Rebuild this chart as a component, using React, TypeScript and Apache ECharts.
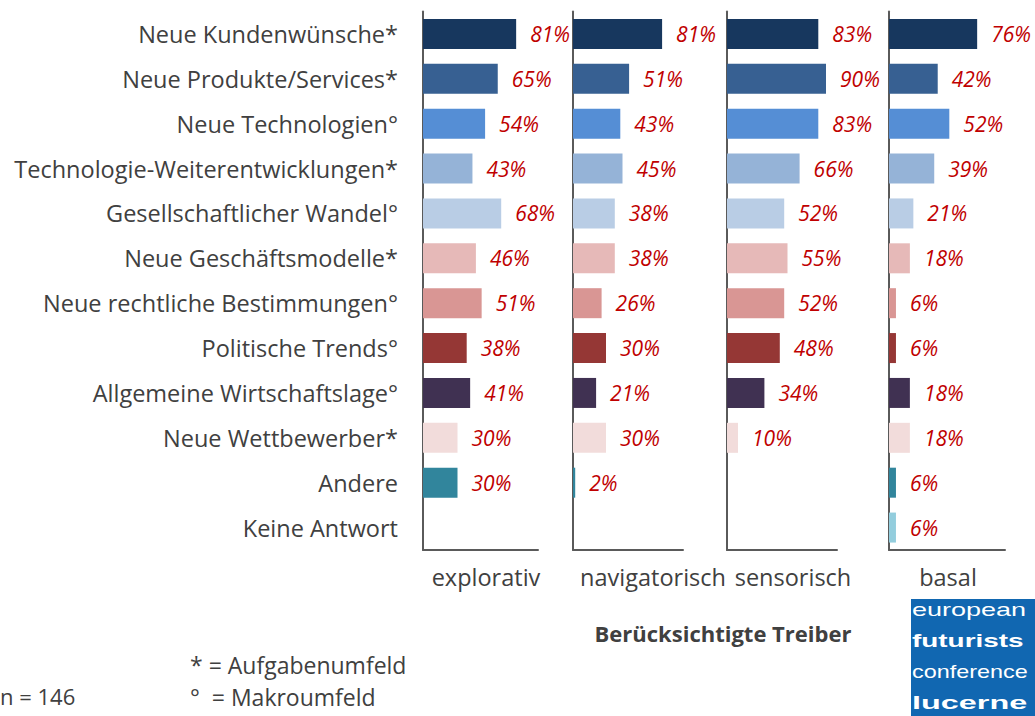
import React, { useEffect, useRef } from "react";
import * as echarts from "echarts";

const categories = [
  "Neue Kundenwünsche*",
  "Neue Produkte/Services*",
  "Neue Technologien°",
  "Technologie-Weiterentwicklungen*",
  "Gesellschaftlicher Wandel°",
  "Neue Geschäftsmodelle*",
  "Neue rechtliche Bestimmungen°",
  "Politische Trends°",
  "Allgemeine Wirtschaftslage°",
  "Neue Wettbewerber*",
  "Andere",
  "Keine Antwort",
];

const explorativ = [81, 65, 54, 43, 68, 46, 51, 38, 41, 30, 30, null];
const navigatorisch = [81, 51, 43, 45, 38, 38, 26, 30, 21, 30, 2, null];
const sensorisch = [83, 90, 83, 66, 52, 55, 52, 48, 34, 10, null, null];
const basal = [76, 42, 52, 39, 21, 18, 6, 6, 18, 18, 6, 6];

const panelTitles = ["explorativ", "navigatorisch", "sensorisch", "basal"];

const barColors = [
  "#17375E",
  "#376092",
  "#558ED5",
  "#95B3D7",
  "#B9CDE5",
  "#E6B9B8",
  "#D99694",
  "#953735",
  "#403152",
  "#F2DCDB",
  "#31859C",
  "#93CDDD",
];

const FONT = "'Open Sans', 'Noto Sans', sans-serif";
const TEXT = "#404040";
const AXIS = "#5a5a5a";

export default function App() {
  const ref = useRef<HTMLDivElement>(null);

  useEffect(() => {
    if (!ref.current) return;
    const chart = echarts.init(ref.current, null, { renderer: "svg" });
    const panels = [explorativ, navigatorisch, sensorisch, basal];
    const lefts = [423, 573, 727, 889];
    const widths = [115, 110, 110, 116];
    const titleCenters = [486, 653, 793, 948];

    const grid = panels.map((_, i) => ({
      left: lefts[i],
      width: widths[i],
      top: 11.5,
      height: 538.5,
    }));
    const xAxis = panels.map((_, i) => ({
      gridIndex: i,
      type: "value",
      min: 0,
      max: 100,
      axisLine: { show: true, lineStyle: { color: AXIS, width: 2 } },
      axisTick: { show: false },
      axisLabel: { show: false },
      splitLine: { show: false },
    }));
    const yAxis = panels.map((_, i) => ({
      gridIndex: i,
      type: "category",
      inverse: true,
      data: categories,
      axisLine: { show: true, lineStyle: { color: AXIS, width: 2 } },
      axisTick: { show: false },
      axisLabel: {
        show: i === 0,
        margin: 25,
        fontSize: 23.5,
        color: TEXT,
        fontFamily: FONT,
      },
    }));
    const series = panels.map((vals, i) => ({
      type: "bar",
      xAxisIndex: i,
      yAxisIndex: i,
      barWidth: 30,
      data: vals.map((v, j) =>
        v == null ? "-" : { value: v, itemStyle: { color: barColors[j] } }
      ),
      label: {
        show: true,
        position: "right",
        distance: 14,
        formatter: "{c}%",
        color: "#C00000",
        fontStyle: "italic",
        fontSize: 21,
        fontFamily: FONT,
      },
    }));

    const graphic: any[] = panelTitles.map((t, i) => ({
      type: "text",
      x: titleCenters[i],
      y: 577,
      style: {
        text: t,
        fill: TEXT,
        font: `23.5px ${FONT}`,
        textAlign: "center",
        textVerticalAlign: "middle",
      },
    }));
    graphic.push(
      {
        type: "text",
        x: 723,
        y: 633,
        style: {
          text: "Berücksichtigte Treiber",
          fill: TEXT,
          font: `bold 22px ${FONT}`,
          textAlign: "center",
          textVerticalAlign: "middle",
        },
      },
      {
        type: "text",
        x: 190,
        y: 665,
        style: {
          text: "* = Aufgabenumfeld",
          fill: TEXT,
          font: `23px ${FONT}`,
          textVerticalAlign: "middle",
        },
      },
      {
        type: "text",
        x: 190,
        y: 697,
        style: {
          text: "°  = Makroumfeld",
          fill: TEXT,
          font: `23px ${FONT}`,
          textVerticalAlign: "middle",
        },
      },
      {
        type: "text",
        x: 0,
        y: 696,
        style: {
          text: "n = 146",
          fill: TEXT,
          font: `22px ${FONT}`,
          textVerticalAlign: "middle",
        },
      },
      {
        type: "rect",
        shape: { x: 911, y: 599, width: 130, height: 120 },
        style: { fill: "#1167B1" },
      },
      {
        type: "text",
        x: 912,
        y: 610,
        scaleX: 1.5,
        style: {
          text: "european",
          fill: "#fff",
          font: "18px 'Liberation Sans', Arial, sans-serif",
          textVerticalAlign: "middle",
        },
      },
      {
        type: "text",
        x: 912,
        y: 641,
        scaleX: 1.55,
        style: {
          text: "futurists",
          fill: "#fff",
          font: "bold 18px 'Liberation Sans', Arial, sans-serif",
          textVerticalAlign: "middle",
        },
      },
      {
        type: "text",
        x: 912,
        y: 672,
        scaleX: 1.3,
        style: {
          text: "conference",
          fill: "#fff",
          font: "18px 'Liberation Sans', Arial, sans-serif",
          textVerticalAlign: "middle",
        },
      },
      {
        type: "text",
        x: 912,
        y: 703,
        scaleX: 1.8,
        style: {
          text: "lucerne",
          fill: "#fff",
          font: "bold 18px 'Liberation Sans', Arial, sans-serif",
          textVerticalAlign: "middle",
        },
      }
    );

    chart.setOption({
      animation: false,
      backgroundColor: "#ffffff",
      grid,
      xAxis,
      yAxis,
      series,
      graphic,
    } as any);
    return () => chart.dispose();
  }, []);

  return (
    <div
      ref={ref}
      style={{ position: "fixed", left: 0, top: 0, width: 1035, height: 716 }}
    />
  );
}
